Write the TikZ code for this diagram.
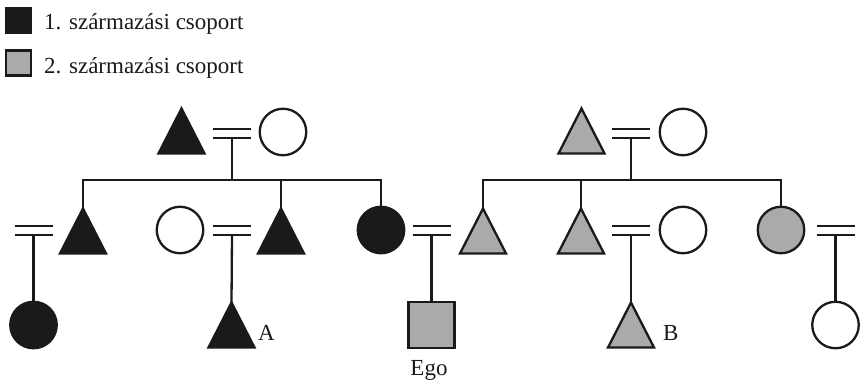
\documentclass[tikz,border=0pt]{standalone}
\usepackage{fontspec}
\setmainfont{Liberation Serif}
\usetikzlibrary{shapes.geometric}
\definecolor{ink}{HTML}{1A1A1A}
\definecolor{greyfill}{HTML}{AAAAAA}
\newcommand\wedlock[1]{%
  \draw[link] ([xshift=-19pt,yshift=4.5pt]#1) -- ([xshift=19pt,yshift=4.5pt]#1);
  \draw[link] ([xshift=-19pt,yshift=-4.5pt]#1) -- ([xshift=19pt,yshift=-4.5pt]#1);}
\begin{document}
\begin{tikzpicture}[x=1pt,y=-1pt,
  pen/.style={draw=ink, line width=2.3pt},
  male/.style={pen, isosceles triangle, shape border rotate=90, isosceles triangle stretches,
    minimum width=46pt, minimum height=45pt, inner sep=0pt, outer sep=0pt, anchor=apex},
  female/.style={pen, circle, minimum size=46.5pt, inner sep=0pt, outer sep=0pt},
  egobox/.style={pen, rectangle, minimum size=46pt, inner sep=0pt, outer sep=0pt},
  keybox/.style={pen, rectangle, minimum size=25pt, inner sep=0pt, outer sep=0pt},
  g1/.style={fill=ink}, g2/.style={fill=greyfill}, none/.style={fill=white},
  link/.style={draw=ink, line width=2.3pt},
  lbl/.style={font=\fontsize{23}{27}\selectfont, inner sep=0pt, text=ink}]
\useasboundingbox (0,0) rectangle (862,383);
% legend
\node[keybox,g1] (L1) at (18.5,20.5) {};
\node[keybox,g2] (L2) at (18.5,63) {};
\node[lbl, anchor=base west] (T1) at (44,29) {1. származási csoport};
\node[lbl, anchor=base west] (T2) at (44,73) {2. származási csoport};
% top left
\node[male,g1] (GF1) at (181.5,108.5) {};
\node[female,none] (GM1) at (283,132) {};
\coordinate (M1) at (232,133.5);
\coordinate (J1) at (232,180);
% gen 2 left
\node[male,g1] (U1) at (83,208.5) {};
\node[female,none] (W2) at (180,230) {};
\node[male,g1] (U2) at (281,208.5) {};
\node[female,g1] (Mo) at (381,230) {};
\coordinate (M2) at (33.5,230.5);
\coordinate (M3) at (232,230.5);
\coordinate (M4) at (431.5,230.5);
% top right
\node[male,g2] (GF2) at (581.5,108.5) {};
\node[female,none] (GM2) at (683,132) {};
\coordinate (M5) at (631,133.5);
\coordinate (J2) at (631,180);
% gen 2 right
\node[male,g2] (Fa) at (483,208.5) {};
\node[male,g2] (U3) at (581,208.5) {};
\node[female,none] (W3) at (683,230) {};
\node[female,g2] (Au) at (781,230) {};
\coordinate (M6) at (631,230.5);
\coordinate (M7) at (835.5,230.5);
% gen 3
\node[female,g1] (C1) at (33.5,325) {};
\node[male,g1] (A) at (231.5,302.5) {};
\node[egobox,g2] (Ego) at (431.5,325) {};
\node[male,g2] (B) at (631,302.5) {};
\node[female,none] (C2) at (835.5,325) {};
% labels
\node[lbl, anchor=base west] (LA) at (258,340.5) {A};
\node[lbl, anchor=base west] (LB) at (663,340.5) {B};
\node[lbl, anchor=base] (LE) at (429,375) {Ego};
% marriages
\wedlock{M1}\wedlock{M2}\wedlock{M3}\wedlock{M4}\wedlock{M5}\wedlock{M6}\wedlock{M7}
% descent
\draw[link] ([yshift=-4.5pt]M1) -- (J1);
\draw[link] ([yshift=-4.5pt]M5) -- (J2);
\draw[link] (U1.apex) |- (J1);
\draw[link] (U2.apex) |- (J1);
\draw[link] (Mo.north) |- (J1);
\draw[link] (Fa.apex) |- (J2);
\draw[link] (U3.apex) |- (J2);
\draw[link] (Au.north) |- (J2);
\draw[link] ([yshift=-4.5pt]M2) -- (C1.north);
\draw[link] ([yshift=-4.5pt]M3) -- (A.apex);
\draw[link] ([yshift=-4.5pt]M4) -- (Ego.north);
\draw[link] ([yshift=-4.5pt]M6) -- (B.apex);
\draw[link] ([yshift=-4.5pt]M7) -- (C2.north);
\end{tikzpicture}
\end{document}
